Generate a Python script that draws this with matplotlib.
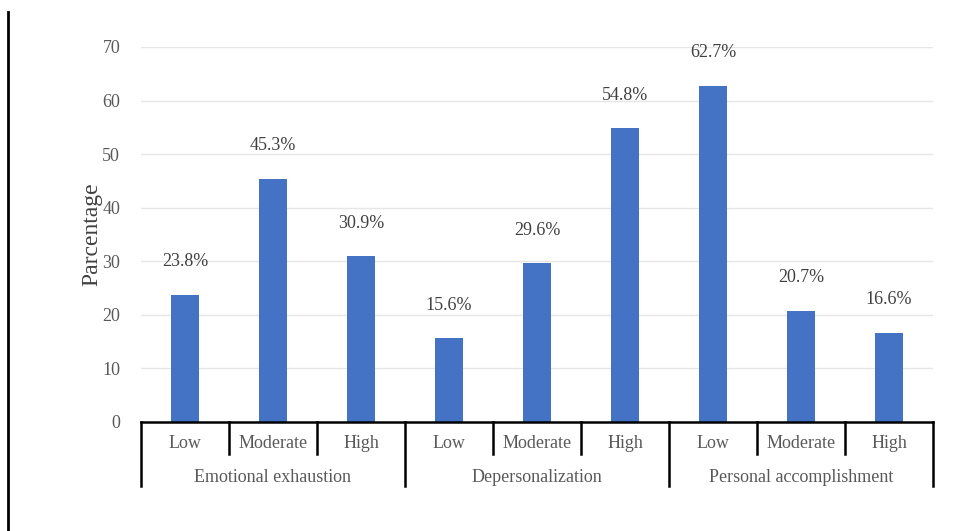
import matplotlib
matplotlib.use("Agg")
import matplotlib.pyplot as plt
from matplotlib.lines import Line2D
import matplotlib.transforms as mtransforms

groups = ["Emotional exhaustion", "Depersonalization", "Personal accomplishment"]
levels = ["Low", "Moderate", "High"]
values = [23.8, 45.3, 30.9, 15.6, 29.6, 54.8, 62.7, 20.7, 16.6]
yticks = [0, 10, 20, 30, 40, 50, 60, 70]

plt.rcParams['font.family'] = ['Liberation Serif', 'DejaVu Serif']
gray = "#595959"
bar_color = "#4472C4"

fig = plt.figure(figsize=(9.76, 5.31), dpi=100)
ax = fig.add_axes([141/976, 1-422/531, (933-141)/976, (422-47)/531])

x = list(range(len(values)))
ax.bar(x, values, width=0.31, color=bar_color, zorder=3)
ax.set_xlim(-0.5, len(values)-0.5)
ax.set_ylim(0, 70)
ax.set_yticks(yticks)
ax.set_yticklabels([str(t) for t in yticks], color=gray, fontsize=13)
ax.tick_params(axis='y', length=0, pad=15)
ax.set_xticks([])
ax.grid(axis='y', color="#e6e6e6", linewidth=1, zorder=0)
for s in ["top", "right", "left"]:
    ax.spines[s].set_visible(False)
ax.spines["bottom"].set_color("black")
ax.spines["bottom"].set_linewidth(1.8)
ax.spines["bottom"].set_zorder(4)

for xi, v in zip(x, values):
    ax.annotate(f"{v}%", (xi, v), xytext=(0, 24), textcoords="offset points",
                ha="center", va="center", fontsize=13, color="#404040")

fig.text(92/976, 1-234/531, "Parcentage", rotation=90, ha="center", va="center",
         fontsize=17, color="#404040")

trans = mtransforms.blended_transform_factory(ax.transData, ax.transAxes)
h = 375.0
inner = -32/h
outer = -64/h
n = len(values)
for b in range(n+1):
    bx = b - 0.5
    y1 = outer if b % 3 == 0 else inner
    ax.add_line(Line2D([bx, bx], [0, y1], transform=trans, color="black",
                       linewidth=1.8, clip_on=False))
for i in range(n):
    ax.text(i, -22/h, levels[i % 3], transform=trans, ha="center", va="center",
            fontsize=13, color=gray)
for g, name in enumerate(groups):
    ax.text(3*g + 1, -55/h, name, transform=trans, ha="center", va="center",
            fontsize=13, color=gray)

fig.add_artist(Line2D([8/976, 8/976], [0, 1-12/531], transform=fig.transFigure,
                      color="black", linewidth=2))

fig.savefig("out.png", dpi=100)
